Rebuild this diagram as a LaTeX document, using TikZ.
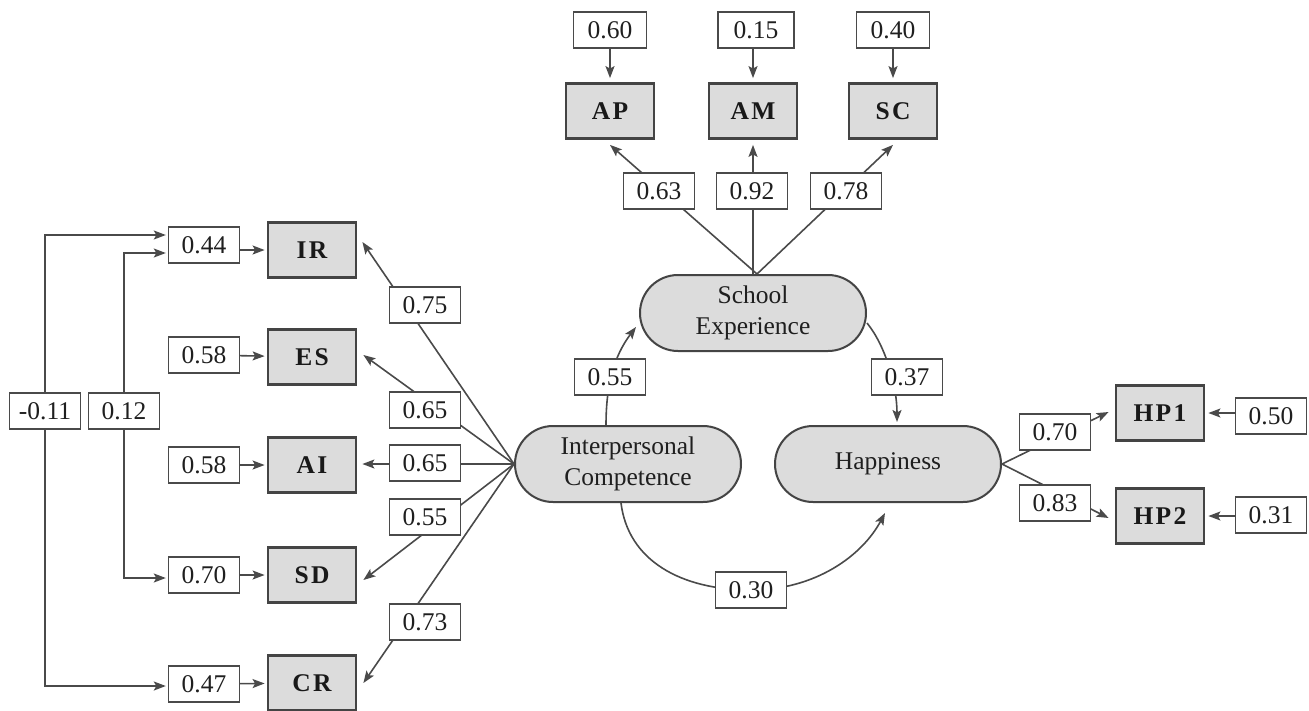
\documentclass[tikz,border=0pt]{standalone}
\usepackage{fontspec}
\setmainfont{Liberation Serif}
\newfontfamily\obsfont[LetterSpace=9]{Liberation Serif}
\usetikzlibrary{arrows.meta,calc}
\definecolor{lc}{HTML}{4A4A4A}
\definecolor{gf}{HTML}{DCDCDC}
\definecolor{bc}{HTML}{444444}
\begin{document}
\begin{tikzpicture}[x=1pt,y=-1pt,
  obs/.style={draw=bc, line width=2.8pt, fill=gf, minimum width=88pt, minimum height=55pt, inner sep=0pt, font=\fontsize{25.5}{28}\selectfont\obsfont\bfseries, text=black!90},
  lat/.style={draw=bc, line width=2pt, fill=gf, rounded corners=38pt, minimum width=226pt, minimum height=76pt, inner sep=0pt, align=center, font=\fontsize{25.5}{31}\selectfont, text=black!88},
  val/.style={draw=lc, line width=1.4pt, fill=white, minimum width=71pt, minimum height=36pt, inner sep=0pt, font=\fontsize{25.5}{30}\selectfont, text=black!88},
  arr/.style={draw=lc, line width=1.6pt, -{Stealth[length=12pt,width=9pt,inset=2.5pt]}},
  ln/.style={draw=lc, line width=1.6pt}]
\useasboundingbox (0,0) rectangle (1309,710);
\fill[white] (0,0) rectangle (1309,710);

% latent variables
\node[lat] (SE) at (753,313) {School\\Experience};
\node[lat] (IC) at (628,464) {Interpersonal\\Competence};
\node[lat] (HA) at (888,464) {Happiness};

% observed indicators
\node[obs] (AP) at (610,111) {AP};
\node[obs] (AM) at (753,111) {AM};
\node[obs] (SC) at (893,111) {SC};
\node[obs] (IR) at (312,250) {IR};
\node[obs] (ES) at (312,357) {ES};
\node[obs] (AI) at (312,465) {AI};
\node[obs] (SD) at (312,575) {SD};
\node[obs] (CR) at (312,683) {CR};
\node[obs] (HP1) at (1160,413) {HP1};
\node[obs] (HP2) at (1160,516) {HP2};

% residuals
\node[val,minimum width=73pt] (r60) at (610,30) {0.60};
\node[val,minimum width=76pt] (r15) at (756,30) {0.15};
\node[val,minimum width=73pt] (r40) at (893,30) {0.40};
\node[val] (r44) at (204,245) {0.44};
\node[val] (r58a) at (204,355) {0.58};
\node[val] (r58b) at (204,465) {0.58};
\node[val] (r70) at (204,575) {0.70};
\node[val] (r47) at (204,684) {0.47};
\node[val] (r50) at (1271,416) {0.50};
\node[val] (r31) at (1271,515) {0.31};

% correlations
\node[val] (c11) at (45,411) {-0.11};
\node[val] (c12) at (124,411) {0.12};

% residual arrows
\draw[arr, shorten >=4pt] (r60) -- (AP);
\draw[arr, shorten >=4pt] (r15.south -| AM.north) -- (AM.north);
\draw[arr, shorten >=4pt] (r40) -- (SC);
\draw[arr, shorten >=2pt] (r44.east |- IR.west) -- (IR.west);
\draw[arr, shorten >=2pt] (r58a) -- (ES);
\draw[arr, shorten >=2pt] (r58b) -- (AI);
\draw[arr, shorten >=2pt] (r70) -- (SD);
\draw[arr, shorten >=2pt] (r47) -- (CR);
\draw[arr, shorten >=3pt] (r50.west |- HP1.east) -- (HP1.east);
\draw[arr, shorten >=3pt] (r31.west |- HP2.east) -- (HP2.east);

% correlation lines
\draw[arr, shorten >=2pt] (c11.north) |- ($(r44.west)+(0,-10)$);
\draw[arr, shorten >=2pt] (c12.north) |- ($(r44.west)+(0,8)$);
\draw[arr, shorten >=2pt] (c11.south) |- ($(r47.west)+(0,2)$);
\draw[arr, shorten >=2pt] (c12.south) |- ($(r70.west)+(0,3)$);

% loadings from School Experience
\draw[arr] ($(SE.north)+(4,0)$) -- ($(AP.south)+(0,5)$);
\draw[arr] (SE.north) -- ($(AM.south)+(0,5)$);
\draw[arr] ($(SE.north)+(4,0)$) -- ($(SC.south)+(0,5)$);

% loadings from Interpersonal Competence
\draw[arr] (IC.west) -- ($(IR.east)+(5,-8)$);
\draw[arr] (IC.west) -- ($(ES.east)+(6,-2)$);
\draw[arr] (IC.west) -- ($(AI.east)+(5,-1)$);
\draw[arr] (IC.west) -- ($(SD.east)+(6,5)$);
\draw[arr] (IC.west) -- ($(CR.east)+(6,0)$);

% loadings from Happiness
\draw[arr] (HA.east) -- ($(HP1.west)+(-6,-1)$);
\draw[arr] (HA.east) -- ($(HP2.west)+(-6,2)$);

% structural paths
\draw[arr] ($(IC.north)+(-22,0)$) .. controls (606,385) and (614,356) .. ($(SE.west)+(-3,14)$);
\draw[arr] ($(SE.east)+(0,10)$) .. controls (885,345) and (897,385) .. ($(HA.north)+(9,-3)$);
\draw[arr] ($(IC.south)+(-7,0)$) .. controls (628,560) and (680,590) .. (751,590) .. controls (815,590) and (862,556) .. ($(HA.south)+(-3,10)$);

% path labels
\node[val] (l63) at (659,191) {0.63};
\node[val] (l92) at (752,191) {0.92};
\node[val] (l78) at (846,191) {0.78};
\node[val] (l75) at (425,305) {0.75};
\node[val] (l65a) at (425,410) {0.65};
\node[val] (l65b) at (425,463) {0.65};
\node[val] (l55) at (425,517) {0.55};
\node[val] (l73) at (425,622) {0.73};
\node[val] (l55s) at (610,377) {0.55};
\node[val] (l37) at (907,377) {0.37};
\node[val] (l30) at (751,590) {0.30};
\node[val] (l70) at (1055,432) {0.70};
\node[val] (l83) at (1055,503) {0.83};
\end{tikzpicture}
\end{document}
